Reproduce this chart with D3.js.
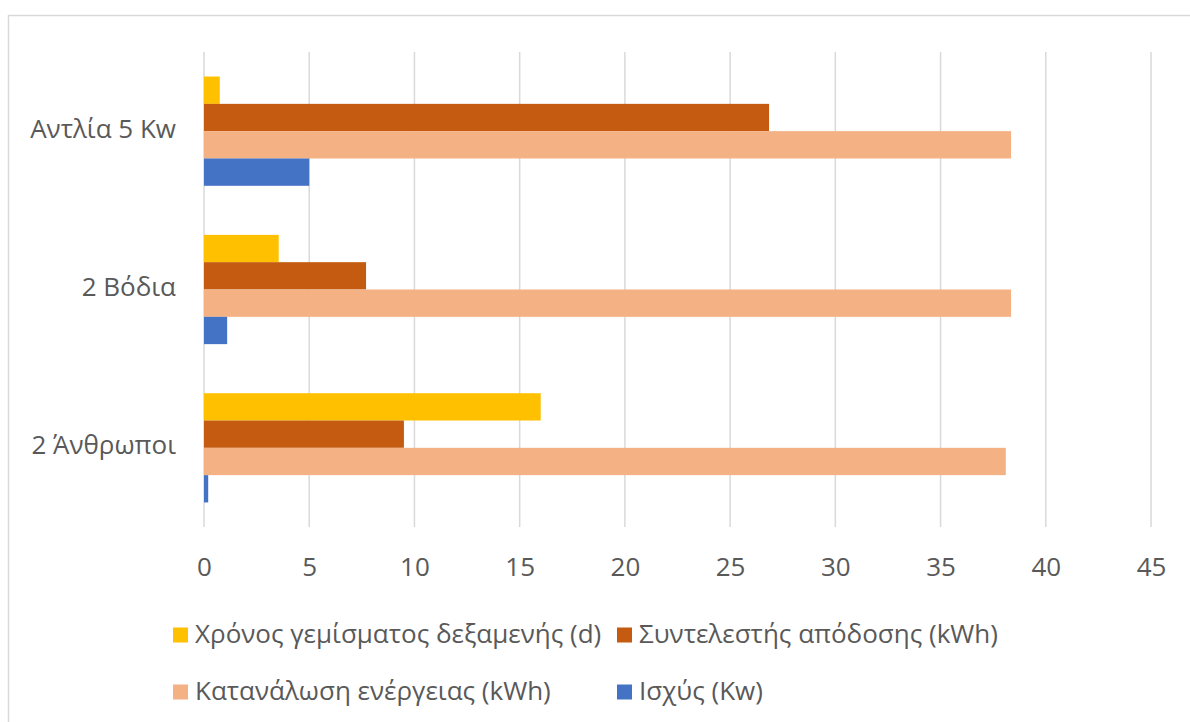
<!DOCTYPE html>
<html>
<head>
<meta charset="utf-8">
<script src="https://cdn.jsdelivr.net/npm/d3@7"></script>
<style>
	body { margin:0; background:#fff; }
	text { font-family: "Open Sans", "Noto Sans", sans-serif; fill:#595959; }
</style>
</head>
<body>
<div id="chart"></div>
<script>
//data
const categories = ["Αντλία 5 Kw", "2 Βόδια", "2 Άνθρωποι"];
const seriesNames = ["Χρόνος γεμίσματος δεξαμενής (d)", "Συντελεστής απόδοσης (kWh)", "Κατανάλωση ενέργειας (kWh)", "Ισχύς (Kw)"];
const fillTime = [0.75, 3.55, 16];
const efficiency = [26.85, 7.7, 9.5];
const consumption = [38.35, 38.35, 38.1];
const power = [5, 1.1, 0.2];
const xTicks = [0, 5, 10, 15, 20, 25, 30, 35, 40, 45];

const colors = ["#ffc000", "#c55a11", "#f4b183", "#4472c4"];
const seriesValues = [fillTime, efficiency, consumption, power];

//sizing
const width = 1190, height = 722;
const margin = {top:52, right:39, bottom:195, left:204};
const fontSize = "26px";

let svg = d3.select("#chart")
	.append("svg")
	.attr("width", width)
	.attr("height", height);

//frame
svg.append("path")
	.attr("d", `M8.5,${height} V15.5 H${width}`)
	.attr("fill", "none")
	.attr("stroke", "#d9d9d9")
	.attr("stroke-width", 1.5);

//scales
const xScale = d3.scaleLinear()
	.domain([0, 45])
	.range([margin.left, width - margin.right]);

const yScale = d3.scaleBand()
	.domain(categories)
	.range([margin.top, height - margin.bottom])
	.paddingInner(0.31)
	.paddingOuter(0.155);

const ySub = d3.scaleBand()
	.domain(d3.range(seriesNames.length))
	.range([0, yScale.bandwidth()]);

//grid
svg.append("g")
	.selectAll("line")
	.data(xTicks)
	.join("line")
	.attr("x1", d => xScale(d))
	.attr("x2", d => xScale(d))
	.attr("y1", margin.top)
	.attr("y2", height - margin.bottom)
	.attr("stroke", "#d9d9d9")
	.attr("stroke-width", 1.5);

//bars
categories.forEach((cat, i) => {
	seriesValues.forEach((vals, s) => {
		svg.append("rect")
			.attr("x", xScale(0))
			.attr("y", yScale(cat) + ySub(s))
			.attr("width", xScale(vals[i]) - xScale(0))
			.attr("height", ySub.bandwidth())
			.attr("fill", colors[s]);
	});
});

//x axis labels
const xAxis = d3.axisBottom(xScale)
	.tickValues(xTicks)
	.tickSize(0)
	.tickPadding(0);

svg.append("g")
	.attr("class", "x_axis")
	.attr("transform", `translate(0,${height - margin.bottom})`)
	.call(xAxis)
	.call(g => g.select(".domain").remove())
	.selectAll("text")
	.attr("y", 49)
	.attr("dy", 0)
	.style("font-size", fontSize)
	.style("fill", "#595959");

//y labels
svg.append("g")
	.selectAll("text")
	.data(categories)
	.join("text")
	.attr("x", 176)
	.attr("y", d => yScale(d) + yScale.bandwidth() / 2)
	.attr("dy", "0.25em")
	.attr("text-anchor", "end")
	.style("font-size", fontSize)
	.text(d => d);

//legend
const legendPos = [[173, 635], [617, 635], [173, 692], [617, 692]];

let legend = svg.append("g")
	.selectAll("g")
	.data(seriesNames)
	.join("g")
	.attr("transform", (d, i) => `translate(${legendPos[i][0]},${legendPos[i][1]})`);

legend.append("rect")
	.attr("x", 0)
	.attr("y", -7.5)
	.attr("width", 15)
	.attr("height", 15)
	.attr("fill", (d, i) => colors[i]);

legend.append("text")
	.attr("x", 22)
	.attr("y", 0)
	.attr("dy", "0.3em")
	.style("font-size", fontSize)
	.text(d => d);
</script>
</body>
</html>
